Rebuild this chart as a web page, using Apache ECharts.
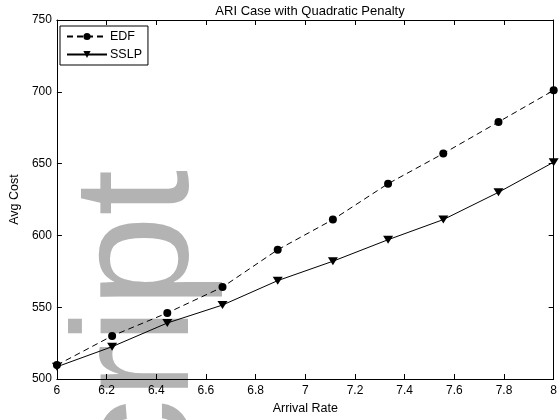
<!DOCTYPE html>
<html>
<head>
<meta charset="utf-8">
<script src="https://cdn.jsdelivr.net/npm/echarts@6/dist/echarts.min.js"></script>
<style>html,body{margin:0;padding:0;background:#fff}#c{width:560px;height:420px}</style>
</head>
<body>
<div id="c"></div>
<script>
const arrivalRate = [6, 6.2222, 6.4444, 6.6667, 6.8889, 7.1111, 7.3333, 7.5556, 7.7778, 8];
const edfCost  = [509.7, 530, 546, 564, 590, 611, 636, 657, 679, 701];
const sslpCost = [508.5, 522.5, 539, 551.5, 568.5, 582, 597, 611, 630, 651];
const xTicks = [6, 6.2, 6.4, 6.6, 6.8, 7, 7.2, 7.4, 7.6, 7.8, 8];
const yTicks = [500, 550, 600, 650, 700, 750];

const FONT = 'Liberation Sans, Arial, Helvetica, sans-serif';
const chart = echarts.init(document.getElementById('c'), null, {renderer: 'canvas'});

const baseAxis = {
  axisLine: {show: true, lineStyle: {color: '#000', width: 1}},
  axisTick: {show: true, inside: true, length: 5, lineStyle: {color: '#000'}},
  splitLine: {show: false}
};

chart.setOption({
  animation: false,
  backgroundColor: '#fff',
  title: {
    text: 'ARI Case with Quadratic Penalty',
    left: 305, top: 0, textAlign: 'center',
    textStyle: {fontFamily: FONT, fontSize: 13, fontWeight: 'normal', color: '#000'}
  },
  grid: {left: 53, right: 3, top: 20, bottom: 41, containLabel: false},
  legend: {
    orient: 'vertical', left: 60, top: 26,
    backgroundColor: '#fff', borderColor: '#000', borderWidth: 1, borderRadius: 0,
    padding: [4, 6, 4, 6], itemGap: 5, itemWidth: 40, itemHeight: 9,
    textStyle: {fontFamily: FONT, fontSize: 12.5, color: '#000', padding: [0, 0, 0, -2]},
    data: ['EDF', 'SSLP']
  },
  graphic: [{
    type: 'text', z: -10, zlevel: 0, silent: true,
    x: 142, y: 170, rotation: Math.PI / 2,
    style: {
      text: 'cript', fill: '#b3b3b3',
      font: '165px ' + FONT,
      textAlign: 'right', textVerticalAlign: 'middle'
    }
  }],
  xAxis: [
    Object.assign({}, baseAxis, {
      type: 'value', min: 6, max: 8, interval: 0.2,
      name: 'Arrival Rate', nameLocation: 'middle', nameGap: 21,
      nameTextStyle: {fontFamily: FONT, fontSize: 12.5, color: '#000'},
      axisLabel: {fontFamily: FONT, fontSize: 12, color: '#000', margin: 6,
        formatter: v => String(Math.round(v * 10) / 10)}
    }),
    Object.assign({}, baseAxis, {
      type: 'value', min: 6, max: 8, interval: 0.2, position: 'top',
      axisLabel: {show: false}
    })
  ],
  yAxis: [
    Object.assign({}, baseAxis, {
      type: 'value', min: 500, max: 750, interval: 50,
      name: 'Avg Cost', nameLocation: 'middle', nameGap: 34,
      nameTextStyle: {fontFamily: FONT, fontSize: 12.5, color: '#000'},
      axisLabel: {fontFamily: FONT, fontSize: 12, color: '#000', margin: 5}
    }),
    Object.assign({}, baseAxis, {
      type: 'value', min: 500, max: 750, interval: 50, position: 'right',
      axisLabel: {show: false}
    })
  ],
  series: [
    {
      name: 'EDF', type: 'line', xAxisIndex: 0, yAxisIndex: 0, z: 5,
      data: arrivalRate.map((x, i) => [x, edfCost[i]]),
      symbol: 'circle', symbolSize: 8, showSymbol: true,
      lineStyle: {color: '#000', width: 1, type: [6, 4]},
      itemStyle: {color: '#000', borderWidth: 0}
    },
    {
      name: 'SSLP', type: 'line', xAxisIndex: 0, yAxisIndex: 0, z: 5,
      data: arrivalRate.map((x, i) => [x, sslpCost[i]]),
      symbol: 'triangle', symbolRotate: 180, symbolSize: [10, 8], showSymbol: true,
      lineStyle: {color: '#000', width: 1, type: 'solid'},
      itemStyle: {color: '#000', borderWidth: 0}
    }
  ]
});
</script>
</body>
</html>
